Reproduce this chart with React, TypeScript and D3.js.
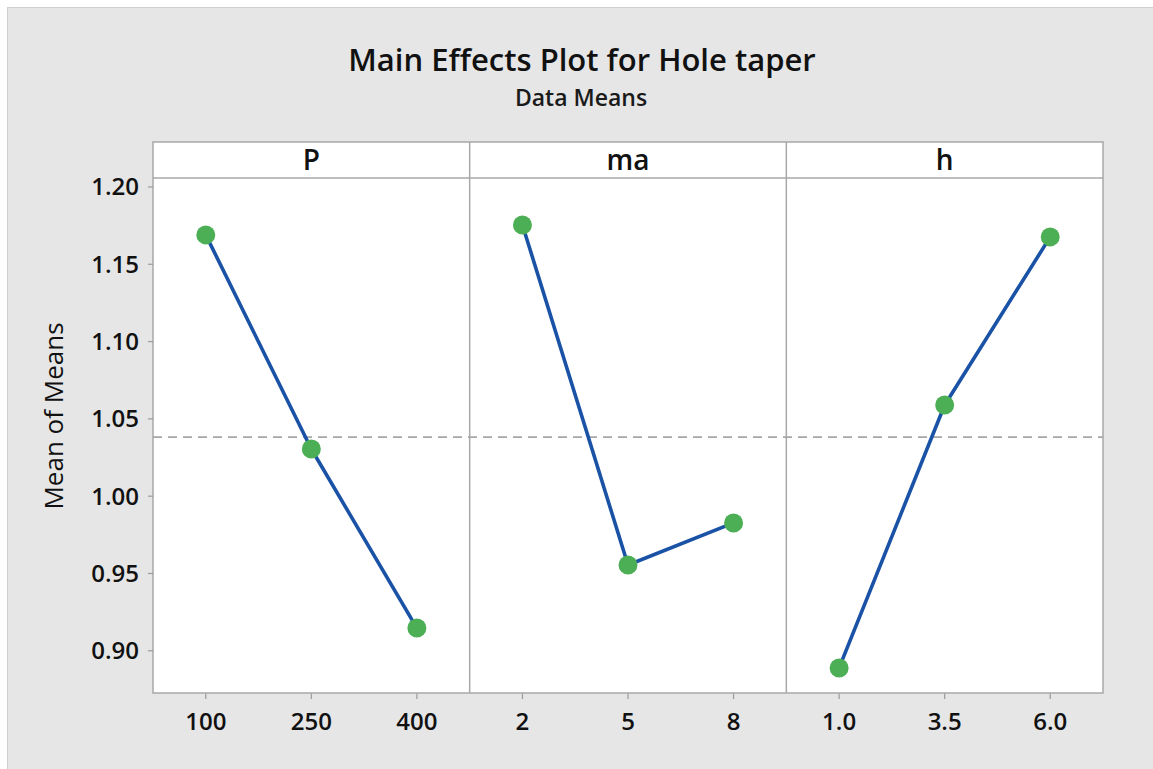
import React from "react";
import * as d3 from "d3";

const factors = ["P", "ma", "h"];
const levelsP = ["100", "250", "400"];
const levelsMa = ["2", "5", "8"];
const levelsH = ["1.0", "3.5", "6.0"];
const meansP = [1.169, 1.0305, 0.9147];
const meansMa = [1.1754, 0.9555, 0.9827];
const meansH = [0.8889, 1.059, 1.1677];
const yTicks = [0.9, 0.95, 1.0, 1.05, 1.1, 1.15, 1.2];

const W = 1153;
const H = 769;
const plotLeft = 153;
const plotRight = 1103;
const stripTop = 142;
const plotTop = 178;
const plotBottom = 693;
const FONT = "'Open Sans', 'Segoe UI', sans-serif";

export default function App() {
  const panels = [
    { name: factors[0], levels: levelsP, means: meansP },
    { name: factors[1], levels: levelsMa, means: meansMa },
    { name: factors[2], levels: levelsH, means: meansH },
  ];
  const grand = d3.mean([...meansP, ...meansMa, ...meansH]) as number;

  const panelScale = d3
    .scaleBand<number>()
    .domain([0, 1, 2])
    .range([plotLeft, plotRight])
    .paddingInner(0)
    .paddingOuter(0);
  const pw = panelScale.bandwidth();

  const y = d3.scaleLinear().domain([0.8727, 1.2058]).range([plotBottom, plotTop]);

  const line = d3
    .line<[number, number]>()
    .x((d) => d[0])
    .y((d) => d[1]);

  return (
    <svg
      width={W}
      height={H}
      style={{ position: "absolute", left: 0, top: 0, display: "block" }}
      fontFamily={FONT}
    >
      <rect x={0} y={0} width={W} height={H} fill="#ffffff" />
      <rect x={7} y={7} width={W - 7} height={H - 7} fill="#e6e6e6" />
      <line x1={7} y1={7.5} x2={W} y2={7.5} stroke="#cfcfcf" strokeWidth={1} />
      <line x1={7.5} y1={7} x2={7.5} y2={H} stroke="#cfcfcf" strokeWidth={1} />

      <text x={582} y={71} textAnchor="middle" fontSize={31} fontWeight={600} fill="#111">
        Main Effects Plot for Hole taper
      </text>
      <text x={581} y={106} textAnchor="middle" fontSize={23} fontWeight={600} fill="#1a1a1a">
        Data Means
      </text>

      {/* plot background */}
      <rect x={plotLeft} y={stripTop} width={plotRight - plotLeft} height={plotBottom - stripTop} fill="#ffffff" />

      {/* dashed grand mean */}
      <line
        x1={plotLeft}
        x2={plotRight}
        y1={y(grand)}
        y2={y(grand)}
        stroke="#a6a6a6"
        strokeWidth={1.8}
        strokeDasharray="9,6"
      />

      {panels.map((p, i) => {
        const x0 = panelScale(i) as number;
        const xs = d3.scalePoint<string>().domain(p.levels).range([x0, x0 + pw]).padding(0.5);
        const pts: [number, number][] = p.levels.map((l, j) => [xs(l) as number, y(p.means[j])]);
        return (
          <g key={p.name}>
            <text
              x={x0 + pw / 2}
              y={170}
              textAnchor="middle"
              fontSize={28}
              fontWeight={600}
              fill="#111"
            >
              {p.name}
            </text>
            <path d={line(pts) || ""} fill="none" stroke="#1a52a6" strokeWidth={3.6} strokeLinejoin="round" />
            {pts.map((pt, j) => (
              <circle key={j} cx={pt[0]} cy={pt[1]} r={9.5} fill="#4caf55" />
            ))}
            {p.levels.map((l) => (
              <g key={l}>
                <line
                  x1={xs(l) as number}
                  x2={xs(l) as number}
                  y1={plotBottom}
                  y2={plotBottom + 6}
                  stroke="#9a9a9a"
                  strokeWidth={1.2}
                />
                <text
                  x={xs(l) as number}
                  y={730}
                  textAnchor="middle"
                  fontSize={24}
                  fontWeight={600}
                  fill="#111"
                >
                  {l}
                </text>
              </g>
            ))}
            {i > 0 && (
              <line x1={x0} x2={x0} y1={stripTop} y2={plotBottom} stroke="#a8a8a8" strokeWidth={1.5} />
            )}
          </g>
        );
      })}

      {/* strip bottom line */}
      <line x1={plotLeft} x2={plotRight} y1={plotTop} y2={plotTop} stroke="#a8a8a8" strokeWidth={1.5} />
      {/* outer frame */}
      <rect
        x={plotLeft}
        y={stripTop}
        width={plotRight - plotLeft}
        height={plotBottom - stripTop}
        fill="none"
        stroke="#a8a8a8"
        strokeWidth={1.5}
      />

      {/* y axis */}
      {yTicks.map((t) => (
        <g key={t}>
          <line x1={plotLeft - 5} x2={plotLeft} y1={y(t)} y2={y(t)} stroke="#9a9a9a" strokeWidth={1.2} />
          <text
            x={139}
            y={y(t) + 8.5}
            textAnchor="end"
            fontSize={24}
            fontWeight={600}
            fill="#111"
          >
            {d3.format(".2f")(t)}
          </text>
        </g>
      ))}
      <text
        transform={`translate(63, 416) rotate(-90)`}
        textAnchor="middle"
        fontSize={26}
        fill="#111"
      >
        Mean of Means
      </text>
    </svg>
  );
}
